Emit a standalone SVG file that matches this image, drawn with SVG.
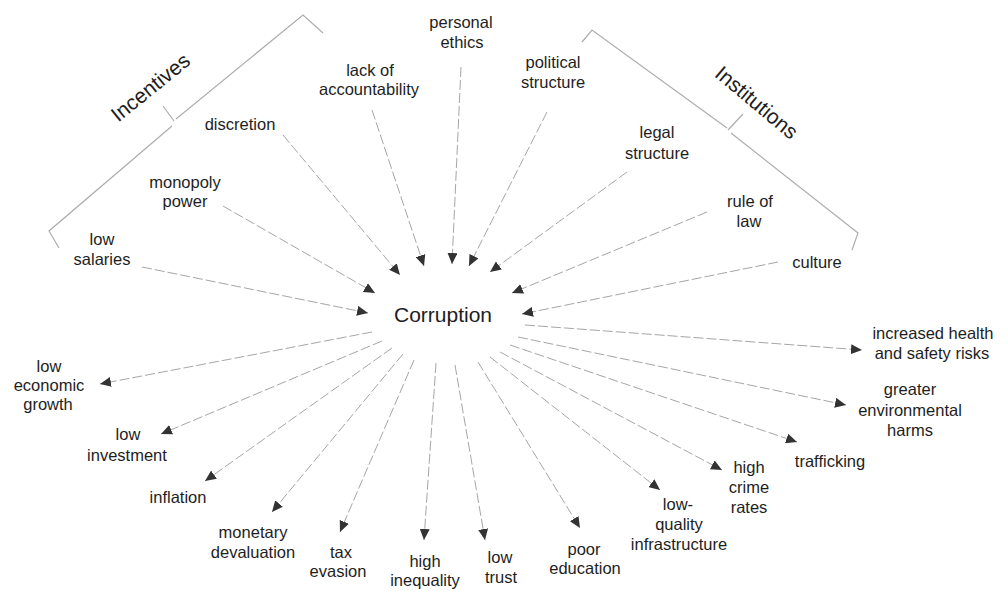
<svg xmlns="http://www.w3.org/2000/svg" width="1008" height="591" viewBox="0 0 1008 591">
<defs>
<marker id="ah" markerUnits="userSpaceOnUse" markerWidth="11" markerHeight="10" refX="11" refY="5" orient="auto">
<path d="M0,0 L11,5 L0,10 z" fill="#333"/>
</marker>
<style>
text{font-family:"Liberation Sans",Arial,sans-serif;font-size:16.5px;fill:#1e1e1e;text-anchor:middle}
.big{font-size:21px}
.c line{stroke:#a6a6a6;stroke-width:1;stroke-dasharray:10 3;marker-end:url(#ah)}
.brace{fill:none;stroke:#adadad;stroke-width:1.2}
</style>
</defs>
<rect width="1008" height="591" fill="#fff"/>

<g id="incentives-group">
<polyline class="brace" points="59,248 49,231 172,126"/>
<polyline class="brace" points="163,106 174,121"/>
<polyline class="brace" points="176,119 303,15 323,33"/>
<text class="big" transform="translate(155,93) rotate(-39)">Incentives</text>
</g>

<g id="institutions-group">
<polyline class="brace" points="582,42 592,30 727,128"/>
<polyline class="brace" points="743,114 728,130"/>
<polyline class="brace" points="731,133 858,233 852,250"/>
<text class="big" transform="translate(752,108) rotate(40)">Institutions</text>
</g>

<g id="corruption"><text class="big" x="443" y="322">Corruption</text></g>

<g id="low-salaries"><text x="102" y="245">low</text><text x="102" y="265">salaries</text></g>
<g id="monopoly-power"><text x="185" y="188">monopoly</text><text x="185" y="207">power</text></g>
<g id="discretion"><text x="240" y="130">discretion</text></g>
<g id="lack-of-accountability"><text x="370" y="76">lack of</text><text x="369" y="95">accountability</text></g>
<g id="personal-ethics"><text x="461" y="28">personal</text><text x="462" y="48">ethics</text></g>
<g id="political-structure"><text x="553" y="68">political</text><text x="553" y="88">structure</text></g>
<g id="legal-structure"><text x="657" y="138">legal</text><text x="657" y="159">structure</text></g>
<g id="rule-of-law"><text x="750" y="207">rule of</text><text x="749" y="227">law</text></g>
<g id="culture"><text x="817" y="268">culture</text></g>

<g id="low-economic-growth"><text x="49" y="372">low</text><text x="49" y="391">economic</text><text x="48" y="410">growth</text></g>
<g id="low-investment"><text x="128" y="440">low</text><text x="127" y="461">investment</text></g>
<g id="inflation"><text x="178" y="503">inflation</text></g>
<g id="monetary-devaluation"><text x="253" y="538">monetary</text><text x="253" y="558">devaluation</text></g>
<g id="tax-evasion"><text x="341" y="558">tax</text><text x="338" y="577">evasion</text></g>
<g id="high-inequality"><text x="425" y="567">high</text><text x="425" y="586">inequality</text></g>
<g id="low-trust"><text x="500" y="563">low</text><text x="501" y="583">trust</text></g>
<g id="poor-education"><text x="584" y="555">poor</text><text x="585" y="574">education</text></g>
<g id="low-quality-infrastructure"><text x="678" y="510">low-</text><text x="679" y="530">quality</text><text x="679" y="550">infrastructure</text></g>
<g id="high-crime-rates"><text x="749" y="473">high</text><text x="749" y="493">crime</text><text x="749" y="513">rates</text></g>
<g id="trafficking"><text x="830" y="467">trafficking</text></g>
<g id="greater-environmental-harms"><text x="910" y="395">greater</text><text x="910" y="416">environmental</text><text x="910" y="436">harms</text></g>
<g id="increased-health-and-safety-risks"><text x="933" y="339">increased health</text><text x="932" y="359">and safety risks</text></g>

<g id="connectors" class="c">
<line x1="142" y1="267" x2="368" y2="313"/>
<line x1="223" y1="206" x2="375" y2="293"/>
<line x1="283" y1="135" x2="400" y2="275"/>
<line x1="372" y1="110" x2="424" y2="266"/>
<line x1="461" y1="67" x2="452" y2="264"/>
<line x1="547" y1="112" x2="469" y2="266"/>
<line x1="627" y1="172" x2="490" y2="272"/>
<line x1="707" y1="212" x2="512" y2="293"/>
<line x1="778" y1="262" x2="522" y2="314"/>

<line x1="372" y1="332" x2="100" y2="384"/>
<line x1="382" y1="341" x2="161" y2="434"/>
<line x1="392" y1="348" x2="205" y2="481"/>
<line x1="403" y1="354" x2="272" y2="512"/>
<line x1="414" y1="360" x2="340" y2="532"/>
<line x1="436" y1="363" x2="424" y2="540"/>
<line x1="455" y1="365" x2="485" y2="540"/>
<line x1="478" y1="362" x2="580" y2="528"/>
<line x1="490" y1="357" x2="660" y2="490"/>
<line x1="500" y1="352" x2="722" y2="470"/>
<line x1="510" y1="345" x2="797" y2="442"/>
<line x1="518" y1="337" x2="846" y2="405"/>
<line x1="525" y1="325" x2="862" y2="350"/>
</g>
</svg>
